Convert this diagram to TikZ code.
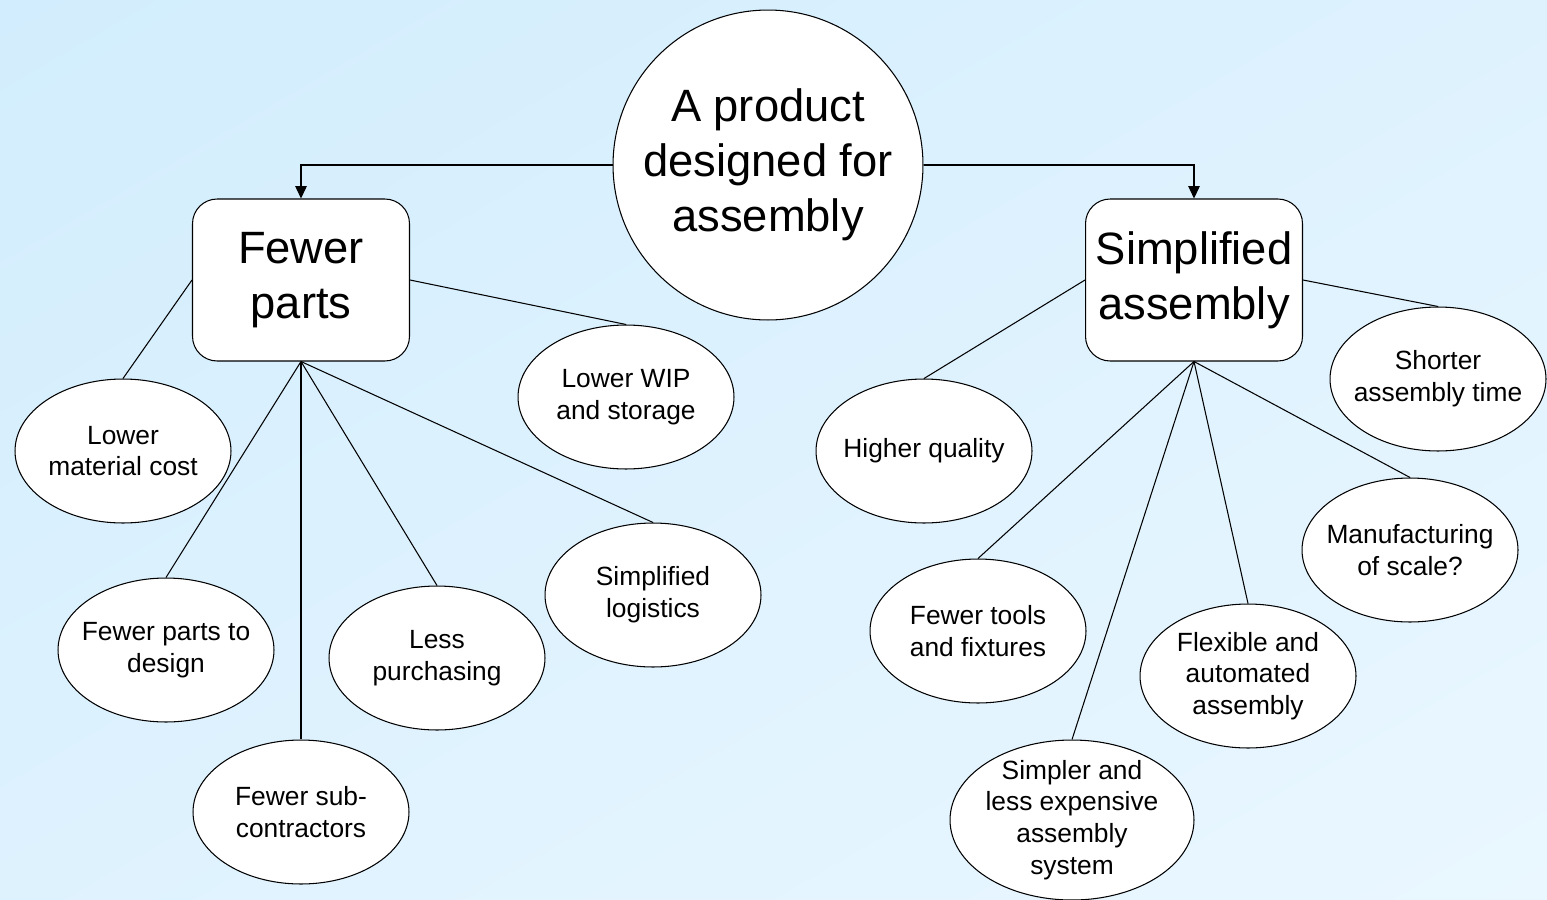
\documentclass[tikz,border=0pt]{standalone}
\usepackage{fontspec}
\setmainfont{Liberation Sans}
\usetikzlibrary{shapes.geometric, arrows.meta, shadings, positioning}

\definecolor{bgdark}{RGB}{210,237,253}
\definecolor{bgmid}{RGB}{222,242,254}
\definecolor{bglight}{RGB}{234,247,255}

\begin{document}
\begin{tikzpicture}[x=0.02cm, y=-0.02cm, line width=0.6pt,
  >={Triangle[length=7pt, width=6.5pt]},
  big/.style={font=\fontsize{25.8}{31.2}\selectfont, align=center},
  small/.style={font=\fontsize{15}{18.1}\selectfont, align=center},
  topic/.style={draw, fill=white, rounded corners=14pt, big, inner sep=0pt,
    minimum width=4.34cm, minimum height=3.24cm},
  benefit/.style={draw, fill=white, ellipse, small, inner xsep=-5pt, inner ysep=0pt,
    minimum width=4.32cm, minimum height=2.88cm}]

% backdrop
\shade[upper left=bgdark, upper right=bgmid, lower left=bgmid, lower right=bglight]
  (0,0) rectangle (1547,899);
\path[use as bounding box] (0,0) rectangle (1547,899);

\node[draw, fill=white, circle, big, inner sep=0pt, minimum size=6.2cm] (dfa) at (768,165)
  {A product\\designed for\\assembly};

\node[topic] (fp) at (301,280) {Fewer\\parts};
\node[topic] (sa) at (1194,280) {Simplified\\assembly};

% fewer parts side
\node[benefit] (matcost) at (123,451) {Lower\\material cost};
\node[benefit] (wip) at (626,397) {Lower WIP\\and storage};
\node[benefit] (design) at (166,650) {Fewer parts to\\design};
\node[benefit] (purch) at (437,658) {Less\\purchasing};
\node[benefit] (logist) at (653,595) {Simplified\\logistics};
\node[benefit] (subcon) at (301,812) {Fewer sub-\\contractors};

% simplified assembly side
\node[benefit] (quality) at (924,451) {Higher quality};
\node[benefit] (shorter) at (1438,379) {Shorter\\assembly time};
\node[benefit] (scale) at (1410,550) {Manufacturing\\of scale?};
\node[benefit] (tools) at (978,631) {Fewer tools\\and fixtures};
\node[benefit] (flex) at (1248,676) {Flexible and\\automated\\assembly};
\node[benefit, minimum width=4.88cm, minimum height=3.2cm, inner ysep=-2pt] (cheap) at (1072,820)
  {Simpler and\\less expensive\\assembly\\system};

\draw[->] (dfa.west) -| (fp.north);
\draw[->] (dfa.east) -| (sa.north);

\draw (fp.west) -- (matcost.north);
\draw (fp.east) -- (wip.north);
\draw (fp.south) -- (design.north);
\draw (fp.south) -- (subcon.north);
\draw (fp.south) -- (purch.north);
\draw (fp.south) -- (logist.north);

\draw (sa.west) -- (quality.north);
\draw (sa.east) -- (shorter.north);
\draw (sa.south) -- (tools.north);
\draw (sa.south) -- (cheap.north);
\draw (sa.south) -- (flex.north);
\draw (sa.south) -- (scale.north);
\end{tikzpicture}
\end{document}
